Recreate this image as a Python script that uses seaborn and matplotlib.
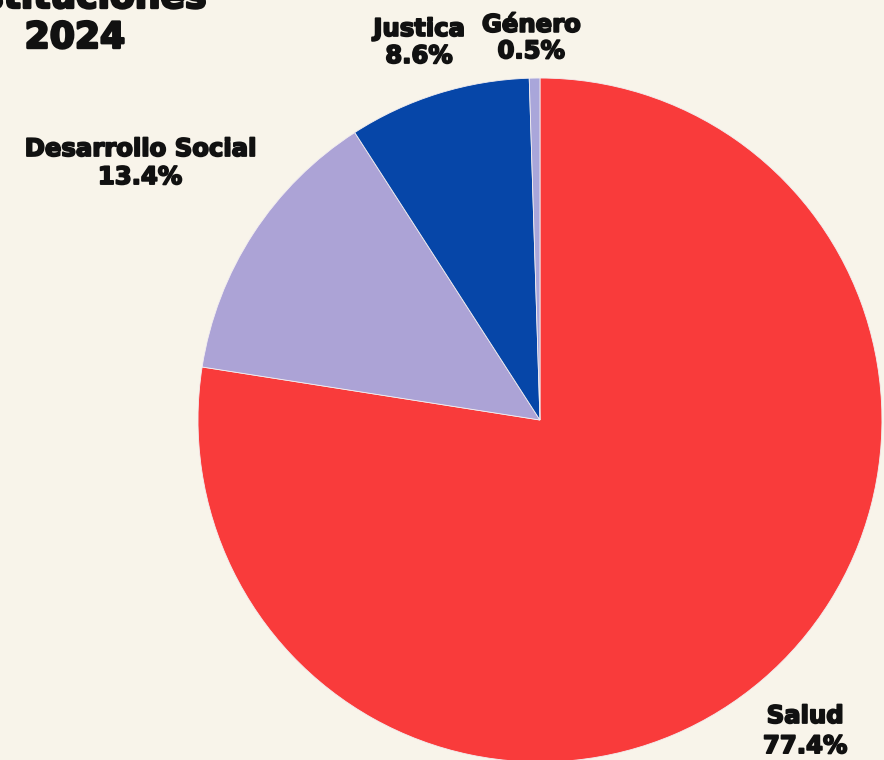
import matplotlib
matplotlib.use("Agg")
import matplotlib.pyplot as plt
import matplotlib.patheffects as pe
import seaborn as sns

# Budget share by institution, 2024
categories = ["Salud", "Desarrollo Social", "Justica", "Género"]
shares = [77.4, 13.4, 8.6, 0.5]
colors = ["#F93B3B", "#ACA3D6", "#0646A8", "#A9A6DA"]
title_lines = ["Instituciones", "2024"]

# Label anchors in data units (pie radius = 1): x centre, baseline of name, baseline of value
label_pos = {
    "Salud": (0.775, -0.886, -0.974),
    "Desarrollo Social": (-1.170, 0.772, 0.690),
    "Justica": (-0.354, 1.123, 1.044),
    "Género": (-0.026, 1.135, 1.058),
}

bg = "#F8F4EA"
ink = "#111111"
sns.set_theme(style="white")
plt.rcParams["font.family"] = ["DejaVu Sans"]

# a thin outline in the text colour gives the labels an extra-heavy look
heavy = [pe.withStroke(linewidth=1.3, foreground=ink)]
heavy_title = [pe.withStroke(linewidth=1.8, foreground=ink)]

fig = plt.figure(figsize=(8.84, 7.6), dpi=100, facecolor=bg)
ax = fig.add_axes([0, 0, 1, 1])
ax.set_facecolor(bg)

ax.pie(shares, colors=colors, startangle=90, counterclock=False,
       radius=1.0, center=(0, 0),
       wedgeprops=dict(linewidth=0.6, edgecolor="#F3EEF0"))

ax.set_xlim(-1.579, 1.006)
ax.set_ylim(-0.994, 1.228)
ax.set_aspect("equal")
ax.axis("off")

for name, val in zip(categories, shares):
    x, y_name, y_val = label_pos[name]
    ax.text(x, y_name, name, ha="center", va="baseline",
            fontsize=17.5, fontweight="bold", color=ink, path_effects=heavy)
    ax.text(x, y_val, f"{val:.1f}%", ha="center", va="baseline",
            fontsize=17.5, fontweight="bold", color=ink, path_effects=heavy)

ax.text(-1.36, 1.205, title_lines[0], ha="center", va="baseline",
        fontsize=26, fontweight="bold", color=ink, path_effects=heavy_title)
ax.text(-1.36, 1.088, title_lines[1], ha="center", va="baseline",
        fontsize=26, fontweight="bold", color=ink, path_effects=heavy_title)

fig.savefig("out.png", dpi=100, facecolor=bg)
